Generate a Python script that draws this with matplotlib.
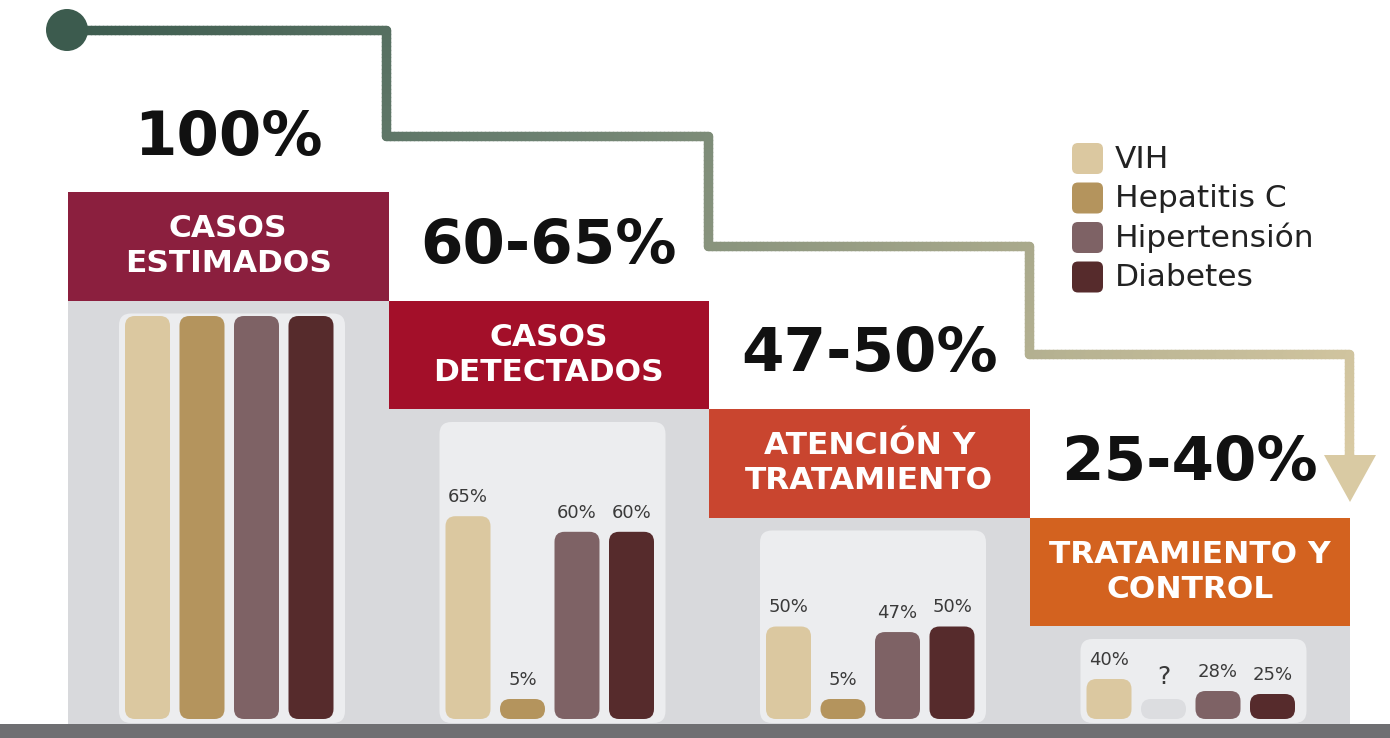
import matplotlib.pyplot as plt
import numpy as np
from matplotlib.collections import LineCollection
from matplotlib.colors import LinearSegmentedColormap
from matplotlib.patches import Circle, FancyBboxPatch, Polygon, Rectangle

STAGES = ["CASOS\nESTIMADOS", "CASOS\nDETECTADOS", "ATENCIÓN Y\nTRATAMIENTO", "TRATAMIENTO Y\nCONTROL"]
TOTALS = ["100%", "60-65%", "47-50%", "25-40%"]
DISEASES = ["VIH", "Hepatitis C", "Hipertensión", "Diabetes"]
VIH = [100, 65, 50, 40]
HEPATITIS_C = [100, 5, 5, None]
HIPERTENSION = [100, 60, 47, 28]
DIABETES = [100, 60, 50, 25]

DISEASE_COLORS = ["#DBC8A0", "#B4945D", "#7E6265", "#562B2C"]
HEADER_COLORS = ["#8B1F3E", "#A30F29", "#C9452F", "#D3621F"]
GRAY_BG = "#D8D9DC"
PANEL_BG = "#ECEDEF"
BASE_COLOR = "#6F6F72"

# layout (pixel units, y down)
W, H = 1390, 738
STAGE_X0, STAGE_W = 68, 320.5
HEADER_Y0, HEADER_H = 192, 108.5
BAR_BOTTOM = 719
BAR_W, BAR_PITCH, BAR_OFFSET = 45, 54.5, 57
PX_PER_PCT = [4.03, 3.12, 1.85, 1.0]
MIN_BAR_PX = 20


def main():
    fig = plt.figure(figsize=(W / 100, H / 100), dpi=100)
    ax = fig.add_axes([0, 0, 1, 1])
    ax.set_xlim(0, W)
    ax.set_ylim(H, 0)
    ax.axis("off")

    series = [VIH, HEPATITIS_C, HIPERTENSION, DIABETES]

    for i, (stage, total) in enumerate(zip(STAGES, TOTALS)):
        x0 = STAGE_X0 + i * STAGE_W
        top = HEADER_Y0 + i * HEADER_H
        header_bottom = top + HEADER_H

        ax.add_patch(Rectangle((x0, header_bottom), STAGE_W, BAR_BOTTOM + 6 - header_bottom,
                               facecolor=GRAY_BG, edgecolor="none", zorder=1))
        ax.add_patch(Rectangle((x0, top), STAGE_W, HEADER_H,
                               facecolor=HEADER_COLORS[i], edgecolor="none", zorder=2))
        ax.text(x0 + STAGE_W / 2, top + HEADER_H / 2, stage, color="white",
                fontsize=22.5, fontweight="bold", family="DejaVu Sans",
                ha="center", va="center", linespacing=1.25, zorder=3)
        ax.text(x0 + STAGE_W / 2, top - 54, total, color="#111111",
                fontsize=44, fontweight="bold", family="DejaVu Sans",
                ha="center", va="center", zorder=3)

        panel_top = header_bottom + 13
        ax.add_patch(FancyBboxPatch((x0 + 51, panel_top), 226, BAR_BOTTOM + 4 - panel_top,
                                    boxstyle="round,pad=0,rounding_size=12",
                                    facecolor=PANEL_BG, edgecolor="none", zorder=2))

        for j, values in enumerate(series):
            value = values[i]
            bx = x0 + BAR_OFFSET + j * BAR_PITCH
            if value is None:
                h = MIN_BAR_PX
                color = "#DCDDE0"
                label = "?"
            else:
                h = max(value * PX_PER_PCT[i], MIN_BAR_PX)
                color = DISEASE_COLORS[j]
                label = f"{value}%"
            ax.add_patch(FancyBboxPatch((bx, BAR_BOTTOM - h), BAR_W, h,
                                        boxstyle=f"round,pad=0,rounding_size={min(10, h / 2)}",
                                        facecolor=color, edgecolor="none", zorder=3))
            if i > 0:
                ax.text(bx + BAR_W / 2, BAR_BOTTOM - h - 10, label, color="#3A3A3A",
                        fontsize=18 if value is None else 13, family="DejaVu Sans",
                        ha="center", va="bottom", zorder=4)

    # baseline
    ax.add_patch(Rectangle((0, 724), W, H - 724, facecolor=BASE_COLOR, edgecolor="none", zorder=5))

    # stepped connector with a colour gradient
    path = np.array([(67, 30), (386, 30), (386, 136), (708, 136), (708, 246),
                     (1029, 246), (1029, 354), (1349, 354), (1349, 462)], dtype=float)
    pts = []
    for a, b in zip(path[:-1], path[1:]):
        n = int(np.hypot(*(b - a)) / 4) + 2
        pts.append(np.linspace(a, b, n)[:-1])
    pts.append(path[-1:])
    pts = np.vstack(pts)
    segs = np.stack([pts[:-1], pts[1:]], axis=1)
    cmap = LinearSegmentedColormap.from_list("flow", ["#3C5B4E", "#6B8070", "#A6A78A", "#D9CAA3"])
    lc = LineCollection(segs, colors=cmap(np.linspace(0, 1, len(segs))),
                        linewidths=6.8, capstyle="round", joinstyle="round", zorder=6)
    ax.add_collection(lc)
    ax.add_patch(Circle((67, 30), 21, facecolor="#3C5B4E", edgecolor="none", zorder=7))
    ax.add_patch(Polygon([(1324, 455), (1376, 455), (1350, 502)], closed=True,
                         facecolor="#D9CAA3", edgecolor="none", zorder=7))

    # legend
    for k, (name, color) in enumerate(zip(DISEASES, DISEASE_COLORS)):
        y = 143 + k * 39.5
        ax.add_patch(FancyBboxPatch((1072, y), 31, 31, boxstyle="round,pad=0,rounding_size=6",
                                    facecolor=color, edgecolor="none", zorder=3))
        ax.text(1115, y + 16, name, color="#222222", fontsize=22.5, family="DejaVu Sans",
                ha="left", va="center", zorder=3)

    fig.savefig("out.png", dpi=100, facecolor="white")
    plt.close(fig)


if __name__ == "__main__":
    main()
